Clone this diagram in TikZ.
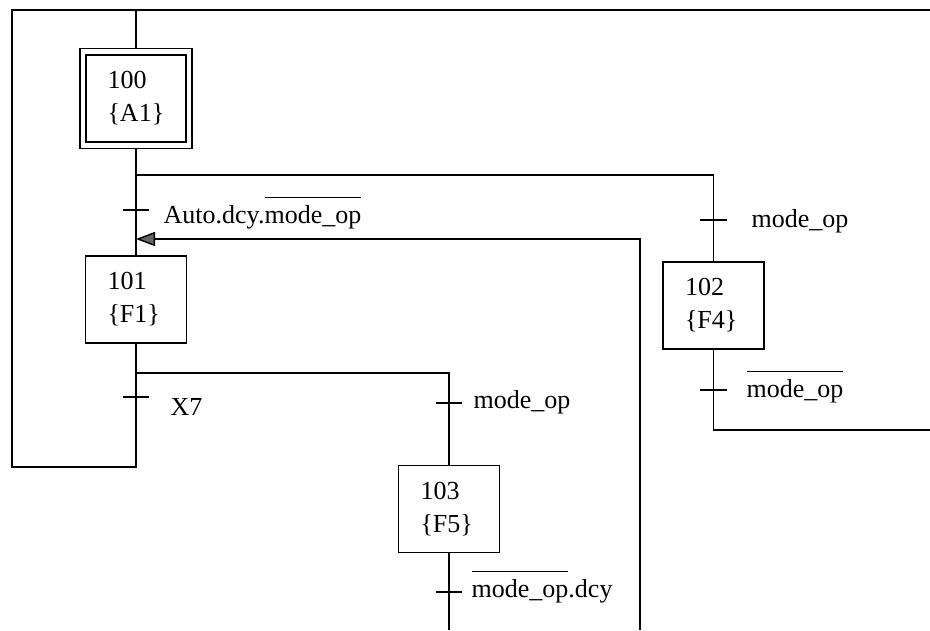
\documentclass[tikz,border=0pt]{standalone}
\usepackage{fontspec}
\setmainfont{Liberation Serif}
\usetikzlibrary{arrows.meta}
\newcommand\ovl[1]{\leavevmode\setbox0\hbox{#1}\rlap{\rule[\dimexpr\ht0+0.28em\relax]{\wd0}{0.9pt}}\box0}
\begin{document}
\begin{tikzpicture}[x=1pt,y=-1pt,line width=1.4pt,
  every node/.style={font=\fontsize{26}{33}\selectfont},
  stepbox/.style={draw,align=left,text width=57pt,minimum width=101pt,minimum height=87pt,inner sep=0pt},
  initbox/.style={stepbox,double,double distance=4.8pt,outer sep=3.1pt,minimum width=106pt,minimum height=93.5pt},
  cond/.style={anchor=base west,inner sep=0pt},
  tickmark/.style={line width=1.4pt}]
\useasboundingbox (0,0) rectangle (930,630);
% steps
\node[initbox] (s100) at (136,98.5) {100\\\{A1\}};
\node[stepbox] (s101) at (136,299.5) {101\\\{F1\}};
\node[stepbox] (s102) at (713.5,305.5) {102\\\{F4\}};
\node[stepbox] (s103) at (449,509) {103\\\{F5\}};
% coordinates
\coordinate (tl) at (12,10);
\coordinate (tr) at (930,10);
\coordinate (ttop) at (136,10);
\coordinate (bl) at (12,467);
\coordinate (b1) at (136,467);
\coordinate (j1) at (136,175);
\coordinate (j1r) at (713.5,175);
\coordinate (j2) at (136,373);
\coordinate (j2r) at (449,373);
\coordinate (e103) at (449,630);
\coordinate (c102) at (713.5,430);
\coordinate (e102) at (930,430);
\coordinate (a0) at (640,630);
\coordinate (a1) at (640,239);
\coordinate (a2) at (136,239);
% connectors
\draw (ttop) -- (s100.north);
\draw (s100.south) -- (s101.north);
\draw (s101.south) -- (b1) -- (bl) -- (tl) -- (tr);
\draw (j1) -- (j1r) -- (s102.north);
\draw (s102.south) -- (c102) -- (e102);
\draw (j2) -- (j2r) -- (s103.north);
\draw (s103.south) -- (e103);
\draw[-{Triangle[length=19pt,width=14pt,fill=black!60]}] (a0) -- (a1) -- (a2);
% transitions
\draw[tickmark] (123,210) -- ++(26,0);
\draw[tickmark] (123,397) -- ++(26,0);
\draw[tickmark] (700,220) -- ++(27,0);
\draw[tickmark] (700,390) -- ++(27,0);
\draw[tickmark] (436,403) -- ++(26,0);
\draw[tickmark] (436,592) -- ++(26,0);
% receptivities
\node[cond] (r1) at (163,223) {Auto.dcy.\ovl{mode\_op}};
\node[cond] (r2) at (170,415) {X7};
\node[cond] (r3) at (751,227) {mode\_op};
\node[cond] (r4) at (746,397) {\ovl{mode\_op}};
\node[cond] (r5) at (473,408) {mode\_op};
\node[cond] (r6) at (471,597) {\ovl{mode\_op}.dcy};
\end{tikzpicture}
\end{document}
